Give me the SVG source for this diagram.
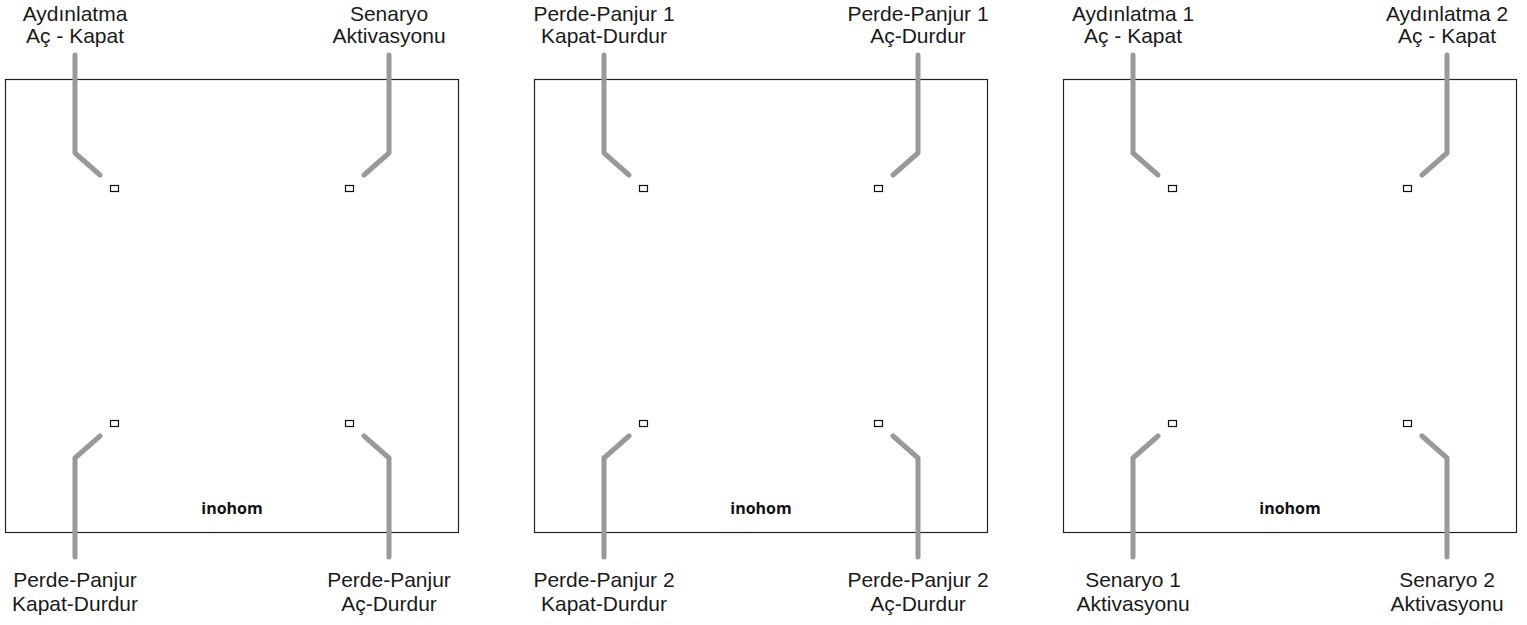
<svg xmlns="http://www.w3.org/2000/svg" width="1527" height="625" viewBox="0 0 1527 625">
<style>
.panel{fill:#fff;stroke:#222;stroke-width:1.2}
.led{fill:#fff;stroke:#111;stroke-width:1.2}
.wire{fill:none;stroke:#999;stroke-width:5;stroke-linecap:round;stroke-linejoin:round}
.lbl{font-family:"Liberation Sans",Arial,sans-serif;font-size:21px;fill:#1a1a1a;text-anchor:middle}
.brand{font-family:"Open Sans",sans-serif;font-weight:bold;font-size:16px;fill:#111;text-anchor:middle}
</style>
<defs>
<g id="device">
<rect class="panel" x="5.5" y="79.5" width="453" height="453"/>
<rect class="led" x="110.5" y="185.5" width="8" height="6"/>
<rect class="led" x="345.5" y="185.5" width="8" height="6"/>
<rect class="led" x="110.5" y="420.5" width="8" height="6"/>
<rect class="led" x="345.5" y="420.5" width="8" height="6"/>
<text class="brand" x="232" y="514">inohom</text>
</g>
<g id="wires">
<path d="M75 55 V153 L100 175"/>
<path d="M389 55 V153 L364 175"/>
<path d="M100 436 L75 458 V557"/>
<path d="M364 436 L389 458 V557"/>
</g>
</defs>
<g id="panel1"><use href="#device"/></g>
<g id="panel2"><use href="#device" x="529"/></g>
<g id="panel3"><use href="#device" x="1058"/></g>
<g id="connectors" class="wire">
<use href="#wires"/>
<use href="#wires" x="529"/>
<use href="#wires" x="1058"/>
</g>
<g id="labels1" class="lbl">
<text x="75" y="21">Aydınlatma</text><text x="75" y="43">Aç - Kapat</text>
<text x="389" y="21">Senaryo</text><text x="389" y="43">Aktivasyonu</text>
<text x="75" y="587">Perde-Panjur</text><text x="75" y="611">Kapat-Durdur</text>
<text x="389" y="587">Perde-Panjur</text><text x="389" y="611">Aç-Durdur</text>
</g>
<g id="labels2" class="lbl">
<text x="604" y="21">Perde-Panjur 1</text><text x="604" y="43">Kapat-Durdur</text>
<text x="918" y="21">Perde-Panjur 1</text><text x="918" y="43">Aç-Durdur</text>
<text x="604" y="587">Perde-Panjur 2</text><text x="604" y="611">Kapat-Durdur</text>
<text x="918" y="587">Perde-Panjur 2</text><text x="918" y="611">Aç-Durdur</text>
</g>
<g id="labels3" class="lbl">
<text x="1133" y="21">Aydınlatma 1</text><text x="1133" y="43">Aç - Kapat</text>
<text x="1447" y="21">Aydınlatma 2</text><text x="1447" y="43">Aç - Kapat</text>
<text x="1133" y="587">Senaryo 1</text><text x="1133" y="611">Aktivasyonu</text>
<text x="1447" y="587">Senaryo 2</text><text x="1447" y="611">Aktivasyonu</text>
</g>
</svg>
